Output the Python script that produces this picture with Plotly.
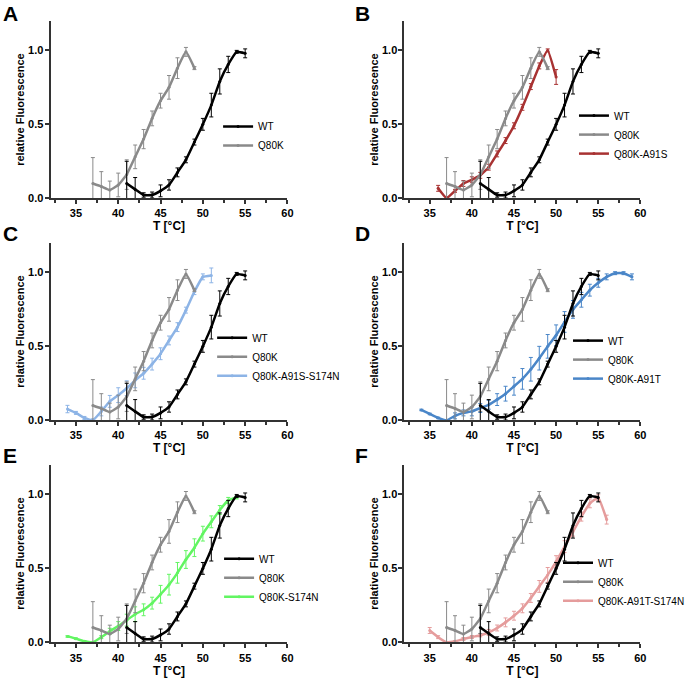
import plotly.graph_objects as go

W, H = 690, 685

# ---------------- data ----------------
T_WT = list(range(41, 56))
WT = [0.10, 0.06, 0.022, 0.022, 0.05, 0.09, 0.175, 0.26, 0.38, 0.50, 0.63, 0.79, 0.905, 0.99, 0.98]
WT_err = [0.15, 0.08, 0.015, 0.02, 0.04, 0.035, 0.03, 0.02, 0.02, 0.04, 0.08, 0.085, 0.055, 0.01, 0.03]

T_Q80K = list(range(37, 50))
Q80K = [0.10, 0.08, 0.056, 0.09, 0.16, 0.28, 0.40, 0.54, 0.66, 0.75, 0.88, 0.99, 0.88]
Q80K_err = [0.175, 0.10, 0.06, 0.08, 0.10, 0.08, 0.065, 0.05, 0.05, 0.08, 0.07, 0.03, 0.01]

T_A91S = list(range(36, 51))
A91S = [0.067, 0.0, 0.05, 0.10, 0.125, 0.155, 0.21, 0.30, 0.39, 0.49, 0.615, 0.755, 0.895, 1.0, 0.82]
A91S_err = [0.02, 0.01, 0.01, 0.02, 0.02, 0.02, 0.02, 0.02, 0.02, 0.02, 0.02, 0.02, 0.02, 0.01, 0.05]

T_A91S_S174N = list(range(34, 52))
A91S_S174N = [0.076, 0.05, 0.016, 0.0, 0.06, 0.128, 0.17, 0.217, 0.27, 0.318, 0.38, 0.45, 0.54, 0.63, 0.745, 0.87, 0.97, 0.98]
A91S_S174N_err = [0.025, 0.01, 0.01, 0.01, 0.03, 0.04, 0.05, 0.05, 0.05, 0.04, 0.04, 0.04, 0.03, 0.03, 0.02, 0.02, 0.02, 0.05]

T_A91T = list(range(34, 60))
A91T = [0.07, 0.043, 0.016, 0.0, 0.03, 0.05, 0.06, 0.083, 0.105, 0.14, 0.18, 0.23, 0.28, 0.345,
        0.42, 0.50, 0.575, 0.665, 0.75, 0.815, 0.88, 0.93, 0.97, 0.995, 0.995, 0.97]
A91T_err = [0.005, 0.005, 0.005, 0.005, 0.02, 0.02, 0.03, 0.03, 0.03, 0.04, 0.05, 0.06, 0.07, 0.08,
            0.08, 0.08, 0.07, 0.07, 0.06, 0.05, 0.04, 0.03, 0.02, 0.01, 0.01, 0.02]

T_S174N = list(range(34, 55))
S174N = [0.04, 0.025, 0.007, 0.0, 0.035, 0.075, 0.11, 0.15, 0.19, 0.22, 0.265, 0.325, 0.39, 0.47,
         0.56, 0.64, 0.735, 0.815, 0.895, 0.96, 0.98]
S174N_err = [0.005, 0.005, 0.005, 0.005, 0.01, 0.02, 0.03, 0.04, 0.05, 0.04, 0.04, 0.06, 0.07, 0.07,
             0.06, 0.06, 0.05, 0.04, 0.03, 0.02, 0.01]

T_A91T_S174N = list(range(35, 57))
A91T_S174N = [0.08, 0.035, 0.0, 0.007, 0.022, 0.036, 0.047, 0.067, 0.097, 0.135, 0.18, 0.23, 0.30,
              0.378, 0.456, 0.546, 0.647, 0.748, 0.85, 0.94, 0.978, 0.83]
A91T_S174N_err = [0.02, 0.01, 0.005, 0.005, 0.01, 0.01, 0.01, 0.02, 0.02, 0.03, 0.03, 0.03, 0.03,
                  0.04, 0.05, 0.04, 0.04, 0.03, 0.03, 0.03, 0.02, 0.03]

panel_letters = ["A", "B", "C", "D", "E", "F"]
variant_names = [None, "Q80K-A91S", "Q80K-A91S-S174N", "Q80K-A91T", "Q80K-S174N", "Q80K-A91T-S174N"]
variant_T = [None, T_A91S, T_A91S_S174N, T_A91T, T_S174N, T_A91T_S174N]
variant_vals = [None, A91S, A91S_S174N, A91T, S174N, A91T_S174N]
variant_errs = [None, A91S_err, A91S_S174N_err, A91T_err, S174N_err, A91T_S174N_err]
variant_colors = [None, "#A83232", "#8DB4E6", "#4A86C8", "#62F562", "#E59C9C"]

x_tickvals = [35, 40, 45, 50, 55, 60]
y_tickvals = [0, 0.5, 1.0]
y_ticktext = ["0.0", "0.5", "1.0"]

# ---------------- layout geometry (pixels) ----------------
col_x = [(51, 290), (408, 646)]
row_y = [(21, 200), (245, 424), (469, 648)]
legend_pos = [(220, 113), (579, 102), (214, 326), (573, 329), (221, 549), (563, 553)]
letter_pos = [(1, 0), (356, 0), (1, 222), (356, 222), (1, 446), (356, 446)]

FONT = "Arial, Liberation Sans, sans-serif"

fig = go.Figure()


def add_series(i, T, vals, errs, color, name, rank):
    ax = "" if i == 0 else str(i + 1)
    fig.add_trace(go.Scatter(
        x=T, y=vals, name=name, mode="lines+markers",
        line=dict(color=color, width=2.5, shape="spline", smoothing=0.35),
        marker=dict(color=color, size=3, symbol="circle"),
        error_y=dict(type="data", array=errs, visible=True, color=color, thickness=1, width=2),
        xaxis="x" + ax, yaxis="y" + ax,
        legend="legend" if i == 0 else "legend" + str(i + 1),
        legendrank=rank, cliponaxis=False,
    ))


for i in range(6):
    if variant_names[i] is not None:
        add_series(i, variant_T[i], variant_vals[i], variant_errs[i], variant_colors[i], variant_names[i], 3)
    add_series(i, T_Q80K, Q80K, Q80K_err, "#8A8A8A", "Q80K", 2)
    add_series(i, T_WT, WT, WT_err, "#000000", "WT", 1)

layout = dict(
    width=W, height=H, margin=dict(l=0, r=0, t=0, b=0),
    paper_bgcolor="white", plot_bgcolor="white",
    font=dict(family=FONT, color="#000"),
    showlegend=True,
)

annotations = []
for i in range(6):
    r, c = divmod(i, 2)
    x0, x1 = col_x[c]
    y0, y1 = row_y[r]
    ax = "" if i == 0 else str(i + 1)
    layout["xaxis" + ax] = dict(
        domain=[x0 / W, x1 / W], anchor="y" + ax, range=[32, 60],
        showline=True, linecolor="#333", linewidth=2, mirror=False,
        ticks="outside", ticklen=4, tickwidth=1.5, tickcolor="#333",
        tickmode="array", tickvals=x_tickvals,
        minor=dict(tickmode="linear", tick0=32.5, dtick=2.5, ticks="outside", ticklen=3, tickwidth=1.5, tickcolor="#333"),
        showgrid=False, zeroline=False,
        tickfont=dict(size=11, weight="bold", family=FONT),
        title=dict(text="T [°C]", font=dict(size=12, weight="bold", family=FONT), standoff=3),
    )
    layout["yaxis" + ax] = dict(
        domain=[1 - y1 / H, 1 - y0 / H], anchor="x" + ax, range=[0, 1.2],
        showline=True, linecolor="#333", linewidth=2,
        ticks="outside", ticklen=4, tickwidth=1.5, tickcolor="#333",
        tickmode="array", tickvals=y_tickvals, ticktext=y_ticktext,
        showgrid=False, zeroline=False, ticklabelstandoff=-1,
        tickfont=dict(size=11, weight="bold", family=FONT),
        title=dict(text="relative Fluorescence", font=dict(size=11, weight="bold", family=FONT), standoff=1),
    )
    lx, ly = legend_pos[i]
    layout["legend" if i == 0 else "legend" + str(i + 1)] = dict(
        x=lx / W, y=1 - ly / H, xanchor="left", yanchor="top",
        bgcolor="rgba(0,0,0,0)", font=dict(size=10, family=FONT, color="#000"),
        tracegroupgap=0, itemwidth=30,
    )
    px, py = letter_pos[i]
    annotations.append(dict(
        text="<b>" + panel_letters[i] + "</b>", x=px / W, y=1 - py / H,
        xref="paper", yref="paper", xanchor="left", yanchor="top",
        showarrow=False, font=dict(size=21, family=FONT, color="#000"),
    ))

layout["annotations"] = annotations
fig.update_layout(**layout)
fig.write_html("out.html", config={"displayModeBar": False},
               post_script="document.body.style.margin='0';document.body.style.padding='0';")
